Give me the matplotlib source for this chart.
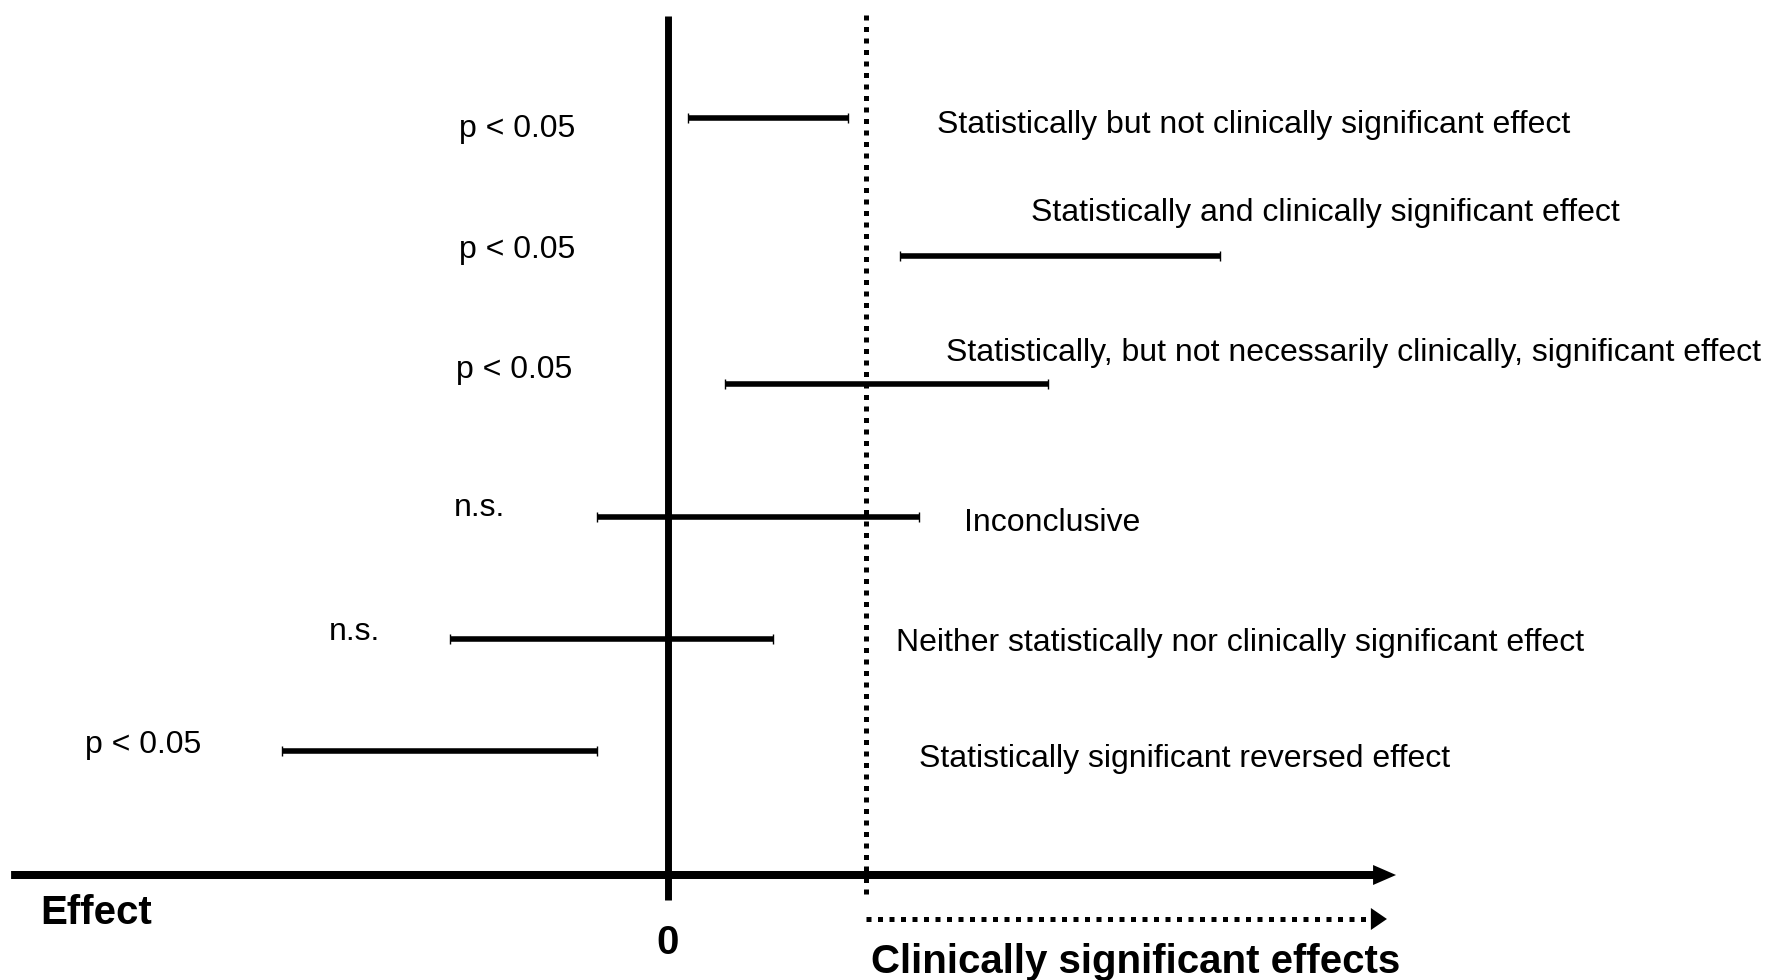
import matplotlib
matplotlib.use("Agg")
import matplotlib.pyplot as plt

plt.rcParams['font.family'] = ['Liberation Sans', 'DejaVu Sans']

# Effect scale: 0 = no effect, 1 = clinically significant threshold
lows = [0.10, 1.17, 0.29, -0.36, -1.10, -1.95]
highs = [0.91, 2.79, 1.92, 1.27, 0.53, -0.36]
rows = [7.57, 6.19, 4.91, 3.58, 2.36, 1.24]
p_labels = ["p < 0.05", "p < 0.05", "p < 0.05", "n.s.", "n.s.", "p < 0.05"]
verdicts = [
    "Statistically but not clinically significant effect",
    "Statistically and clinically significant effect",
    "Statistically, but not necessarily clinically, significant effect",
    "Inconclusive",
    "Neither statistically nor clinically significant effect",
    "Statistically significant reversed effect",
]
threshold = 1.0

# label placement (layout only)
p_pos = [(-1.056, 7.46), (-1.056, 6.25), (-1.071, 5.05),
         (-1.081, 3.67), (-1.712, 2.43), (-2.944, 1.30)]
v_pos = [(1.359, 7.50), (1.833, 6.62), (1.404, 5.22),
         (1.495, 3.52), (1.152, 2.32), (1.268, 1.16)]

fig = plt.figure(figsize=(17.74, 9.8), dpi=100)
ax = fig.add_axes([0, 0, 1, 1])
ax.set_xlim(-3.374, 5.586)
ax.set_ylim(-1.05, 8.75)
ax.axis("off")

# zero line and clinical threshold
ax.plot([0, 0], [-0.25, 8.59], color="k", lw=5, solid_capstyle="butt")
ax.plot([threshold, threshold], [-0.19, 8.66], color="k", lw=3.6,
        linestyle=(0, (1, 1.3)))

# effect axis arrow
ax.arrow(-3.318, 0, 3.677 + 3.318, 0, width=0.08, head_width=0.2,
         head_length=0.116, length_includes_head=True, color="k", lw=0)

# clinically significant region arrow
ax.plot([threshold, 3.55], [-0.44, -0.44], color="k", lw=3.6,
        linestyle=(0, (1, 1.3)))
ax.arrow(3.55, -0.44, 0.081, 0, width=0.0, head_width=0.22,
         head_length=0.081, length_includes_head=True, color="k", lw=0)

# confidence intervals
mids = [(lo + hi) / 2 for lo, hi in zip(lows, highs)]
half = [(hi - lo) / 2 for lo, hi in zip(lows, highs)]
ax.errorbar(mids, rows, xerr=half, fmt="none", ecolor="k", elinewidth=4,
            capsize=3.6, capthick=1.0)

for lab, (x, y) in zip(p_labels, p_pos):
    ax.text(x, y, lab, fontsize=23, ha="left", va="center")
for lab, (x, y) in zip(verdicts, v_pos):
    ax.text(x, y, lab, fontsize=23, ha="left", va="center")

ax.text(-3.17, -0.38, "Effect", fontsize=29, fontweight="bold",
        ha="left", va="center")
ax.text(0, -0.68, "0", fontsize=29, fontweight="bold", ha="center", va="center")
ax.text(1.025, -0.87, "Clinically significant effects", fontsize=29,
        fontweight="bold", ha="left", va="center")

fig.savefig("out.png", dpi=100)
